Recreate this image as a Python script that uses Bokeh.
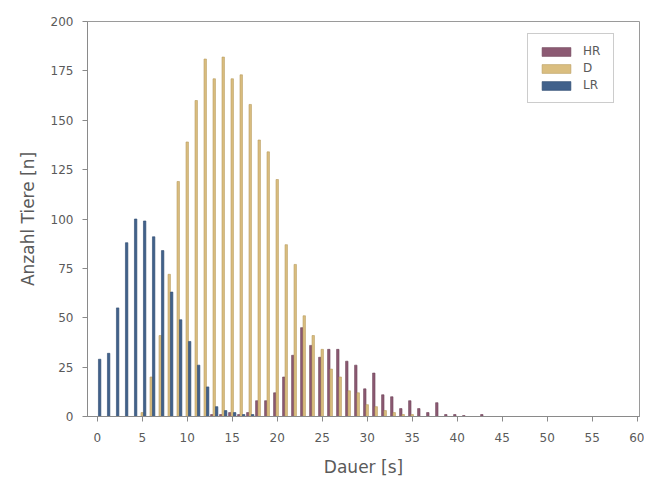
from bokeh.plotting import figure
from bokeh.models import ColumnDataSource, Range1d, FixedTicker, Legend, LegendItem
from bokeh.transform import dodge
from bokeh.embed import file_html
from bokeh.resources import INLINE

# ---- data ----
dauer = list(range(0, 61))
hr = [0, 0, 0, 0, 0, 0, 0, 0, 0, 0,
      0, 0, 0, 1, 1, 2, 1, 2, 8, 8,
      12, 20, 31, 45, 36, 30, 34, 34, 28, 26,
      14, 22, 11, 10, 4, 8, 4, 2, 7, 1,
      1, 0.5, 0, 1, 0, 0, 0, 0, 0, 0,
      0, 0, 0, 0, 0, 0, 0, 0, 0, 0, 0]
d = [0, 0, 0, 0, 0, 2, 20, 41, 72, 119,
     139, 160, 181, 171, 182, 171, 173, 158, 140, 134,
     120, 87, 77, 51, 41, 34, 24, 20, 13, 12,
     6, 5, 3, 2, 1, 1, 0, 0, 0, 0,
     0, 0, 0, 0, 0, 0, 0, 0, 0, 0,
     0, 0, 0, 0, 0, 0, 0, 0, 0, 0, 0]
lr = [29, 32, 55, 88, 100, 99, 91, 84, 63, 49,
      38, 26, 15, 5, 3, 2, 1, 1, 0, 0,
      0, 0, 0, 0, 0, 0, 0, 0, 0, 0,
      0, 0, 0, 0, 0, 0, 0, 0, 0, 0,
      0, 0, 0, 0, 0, 0, 0, 0, 0, 0,
      0, 0, 0, 0, 0, 0, 0, 0, 0, 0, 0]
series = ["HR", "D", "LR"]
x_ticks = list(range(0, 61, 5))
y_ticks = list(range(0, 201, 25))

src = ColumnDataSource(dict(x=dauer, HR=hr, D=d, LR=lr))

p = figure(width=644, height=479, output_backend="svg", toolbar_location=None,
           x_range=Range1d(-1.08, 60.25), y_range=Range1d(0, 200),
           min_border_left=87, min_border_right=5, min_border_top=21, min_border_bottom=63)

p.background_fill_color = "white"
p.border_fill_color = "white"
p.outline_line_color = "#9a9a9a"
p.outline_line_width = 1
p.xgrid.visible = False
p.ygrid.visible = False

fills = {"HR": "#8C5A73", "D": "#DABE80", "LR": "#41618B"}
lines = {"HR": "#6E4459", "D": "#B89C5E", "LR": "#2E4A6E"}
offs = {"HR": -0.27, "D": 0.0, "LR": 0.27}
bw = 0.27

renderers = {}
for s in series:
    renderers[s] = p.vbar(x=dodge("x", offs[s], range=p.x_range), top=s, width=bw,
                          bottom=0, source=src, fill_color=fills[s],
                          line_color=lines[s], line_width=0.6)

font = "DejaVu Sans"
txt = "#5a5a5a"
axc = "#8a8a8a"

for ax in (p.xaxis[0], p.yaxis[0]):
    ax.axis_line_color = axc
    ax.major_tick_line_color = axc
    ax.minor_tick_line_color = None
    ax.major_tick_out = 5
    ax.major_tick_in = 0
    ax.major_label_text_font = font
    ax.major_label_text_font_size = "12px"
    ax.major_label_text_color = txt
    ax.axis_label_text_font = font
    ax.axis_label_text_font_size = "17px"
    ax.axis_label_text_font_style = "normal"
    ax.axis_label_text_color = txt

p.xaxis.major_label_standoff = 11
p.yaxis.major_label_standoff = 9
p.xaxis.ticker = FixedTicker(ticks=x_ticks)
p.yaxis.ticker = FixedTicker(ticks=y_ticks)
p.xaxis.axis_label = "Dauer [s]"
p.yaxis.axis_label = "Anzahl Tiere [n]"
p.xaxis.axis_label_standoff = 12
p.yaxis.axis_label_standoff = 10

legend = Legend(items=[LegendItem(label=s, renderers=[renderers[s]]) for s in series],
                location=(440, 313), orientation="vertical")
legend.glyph_width = 36
legend.glyph_height = 11
legend.label_height = 11
legend.spacing = 3
legend.padding = 10
legend.margin = 0
legend.label_standoff = 9
legend.label_text_font = font
legend.label_text_font_size = "12px"
legend.label_text_color = txt
legend.border_line_color = "#9a9a9a"
legend.border_line_width = 1
legend.background_fill_color = "white"
legend.background_fill_alpha = 1
p.add_layout(legend)

open("out.html", "w").write(file_html(p, INLINE))
